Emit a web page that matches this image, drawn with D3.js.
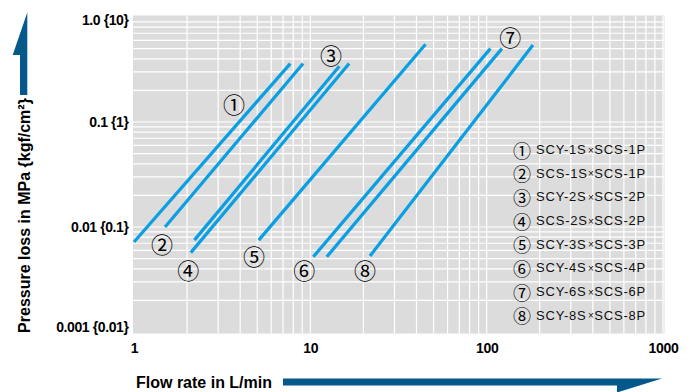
<!DOCTYPE html>
<html><head><meta charset="utf-8">
<script src="https://cdn.jsdelivr.net/npm/d3@7"></script>
<style>body{margin:0;background:#fff} svg{display:block}</style>
</head><body><svg id="c" width="693" height="392"></svg>
<script>
// ---- data ----
const seriesIds = ["①","②","③","④","⑤","⑥","⑦","⑧"];
const seriesLeft = ["SCY-1S","SCS-1S","SCY-2S","SCS-2S","SCY-3S","SCY-4S","SCY-6S","SCY-8S"];
const seriesRight = ["SCS-1P","SCS-1P","SCS-2P","SCS-2P","SCS-3P","SCS-4P","SCS-6P","SCS-8P"];
const flowStart = [1.0, 1.5, 2.2, 2.1, 5.1, 10.4, 12.4, 21.8];
const flowEnd   = [7.7, 9.1, 14.6, 16.6, 45, 105, 122, 183];
const lossStart = [0.0072, 0.0100, 0.0075, 0.0057, 0.0075, 0.0052, 0.0052, 0.0053];
const lossEnd   = [0.36, 0.36, 0.34, 0.36, 0.55, 0.50, 0.50, 0.54];
const labelFlow = [3.69, 1.44, 13.1, 2.03, 4.79, 9.25, 136, 20.4];
const labelLoss = [0.153, 0.0071, 0.441, 0.0040, 0.0054, 0.0040, 0.659, 0.0040];
const xTicks = [1, 10, 100, 1000];
const xTickLabels = ["1", "10", "100", "1000"];
const yTicks = [0.001, 0.01, 0.1, 1];
const yTickLabels = ["0.001 {0.01}", "0.01 {0.1}", "0.1 {1}", "1.0 {10}"];
const xTitle = "Flow rate in L/min";
const yTitle = "Pressure loss in MPa {kgf/cm²}";

// ---- chart ----
const svg = d3.select("#c");
const F = "'Liberation Sans', Arial, sans-serif";
const CJK = "'Noto Sans CJK JP', 'DejaVu Sans', sans-serif";
const x = d3.scaleLog().domain([1, 1000]).range([134, 663]);
const y = d3.scaleLog().domain([0.001, 1]).range([332, 17]);

svg.append("rect").attr("x", 133).attr("y", 15.5)
  .attr("width", 664.5 - 133).attr("height", 333.5 - 15.5).attr("fill", "#dcdcdc");

// grid lines at 1..9 per decade
const gx = [], gy = [];
for (let e = 0; e < 3; e++) for (let m = 1; m < 10; m++) gx.push(m * Math.pow(10, e));
gx.push(1000);
for (let e = -3; e < 0; e++) for (let m = 1; m < 10; m++) gy.push(m * Math.pow(10, e));
gy.push(1);
const grid = svg.append("g").attr("stroke", "#fff").attr("stroke-width", 1.2);
grid.selectAll("line.v").data(gx.filter(v => v > 1)).join("line").attr("class", "v")
  .attr("x1", d => x(d)).attr("x2", d => x(d)).attr("y1", 15.5).attr("y2", 333.5);
grid.selectAll("line.h").data(gy.filter(v => v < 1 && v > 0.001)).join("line").attr("class", "h")
  .attr("y1", d => y(d)).attr("y2", d => y(d)).attr("x1", 133).attr("x2", 664.5);

// axes
const xa = svg.append("g").attr("transform", "translate(0,333)")
  .call(d3.axisBottom(x).tickValues(xTicks).tickFormat((d, i) => xTickLabels[i]).tickSize(0).tickPadding(10));
xa.select(".domain").remove();
xa.selectAll("text").attr("font-family", F).attr("font-weight", "bold").attr("font-size", 14)
  .attr("letter-spacing", -0.3).attr("fill", "#000");

const ya = svg.append("g").attr("transform", "translate(133.5,0)")
  .call(d3.axisLeft(y).tickValues(yTicks).tickFormat((d, i) => yTickLabels[i]).tickSize(0).tickPadding(5));
ya.select(".domain").remove();
ya.selectAll("text").attr("font-family", F).attr("font-weight", "bold").attr("font-size", 14)
  .attr("letter-spacing", -0.4).attr("fill", "#000")
  .attr("transform", d => d === 1 ? "translate(0,3)" : d === 0.001 ? "translate(0,-5)" : null);

// series lines
const idx = d3.range(seriesIds.length);
svg.append("g").selectAll("line").data(idx).join("line")
  .attr("x1", i => x(flowStart[i])).attr("y1", i => y(lossStart[i]))
  .attr("x2", i => x(flowEnd[i])).attr("y2", i => y(lossEnd[i]))
  .attr("stroke", "#0a9fe3").attr("stroke-width", 3.2);

// series labels
svg.append("g").selectAll("text").data(idx).join("text")
  .attr("x", i => x(labelFlow[i])).attr("y", i => y(labelLoss[i]))
  .attr("text-anchor", "middle").attr("dominant-baseline", "central")
  .attr("font-family", CJK).attr("font-size", 22).attr("fill", "#000")
  .text(i => seriesIds[i]);

// legend
const lg = svg.append("g");
idx.forEach(i => {
  const cy = 149.5 + i * 23.67;
  lg.append("text").attr("x", 522).attr("y", cy).attr("text-anchor", "middle")
    .attr("dominant-baseline", "central").attr("font-family", CJK).attr("font-size", 18)
    .attr("fill", "#000").text(seriesIds[i]);
  const t = lg.append("text").attr("y", cy + 4.6).attr("font-family", F).attr("font-size", 13)
    .attr("fill", "#111");
  t.append("tspan").attr("x", 536).attr("letter-spacing", 0.8).text(seriesLeft[i]);
  t.append("tspan").attr("x", 588).attr("font-size", 10).attr("dy", -0.5).text("×");
  t.append("tspan").attr("x", 594.3).attr("dy", 0.5).attr("letter-spacing", 0.8).text(seriesRight[i]);
});

// axis titles with arrows
const arrowColor = "#04598a";
svg.append("polygon").attr("fill", arrowColor)
  .attr("points", "20,95 20,55 12.7,55 27.3,12.5 27.3,95");
svg.append("polygon").attr("fill", arrowColor)
  .attr("points", "283,378.5 662,378.5 617,392.5 617,385.5 283,385.5");
svg.append("text").attr("x", 136).attr("y", 388.3).attr("font-family", F).attr("font-weight", "bold")
  .attr("font-size", 16).attr("fill", "#000").text(xTitle);
svg.append("text").attr("transform", "translate(29.5,215.5) rotate(-90)").attr("text-anchor", "middle")
  .attr("font-family", F).attr("font-weight", "bold").attr("font-size", 16).attr("fill", "#000").text(yTitle);
</script></body></html>
